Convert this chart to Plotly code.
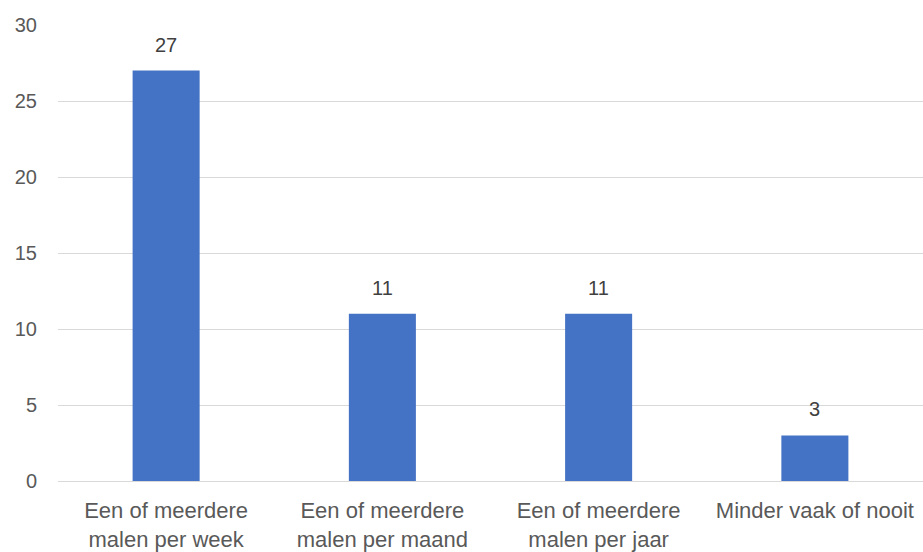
import plotly.graph_objects as go

categories = ["Een of meerdere<br>malen per week", "Een of meerdere<br>malen per maand",
              "Een of meerdere<br>malen per jaar", "Minder vaak of nooit"]
values = [27, 11, 11, 3]
y_ticks = [0, 5, 10, 15, 20, 25, 30]

FONT = "Liberation Sans"
fig = go.Figure()
fig.add_trace(go.Bar(x=categories, y=values, marker=dict(color="#4472C4", line=dict(width=0)),
                     hoverinfo="skip"))
for c, v in zip(categories, values):
    fig.add_annotation(x=c, y=v, text=str(v), showarrow=False, yanchor="bottom", yshift=13,
                       font=dict(family=FONT, size=20, color="#404040"))

fig.update_layout(
    width=923, height=552,
    margin=dict(l=58, r=0, t=25, b=71),
    paper_bgcolor="white", plot_bgcolor="white",
    showlegend=False,
    bargap=0.69,
    font=dict(family=FONT, size=20, color="#595959"),
)
fig.update_xaxes(showline=True, linecolor="#d9d9d9", linewidth=1, ticks="", automargin=False,
                 tickfont=dict(family=FONT, size=22, color="#595959"), ticklabelstandoff=10)
fig.update_yaxes(range=[0, 30], tickvals=y_ticks, showgrid=True, gridcolor="#d9d9d9", gridwidth=1,
                 zeroline=False, showline=False, ticks="", automargin=False,
                 tickfont=dict(family=FONT, size=20, color="#595959"), ticklabelstandoff=20)
fig.write_html("out.html", config={"displayModeBar": False},
               post_script="document.body.style.margin='0';document.body.style.overflow='hidden';")
